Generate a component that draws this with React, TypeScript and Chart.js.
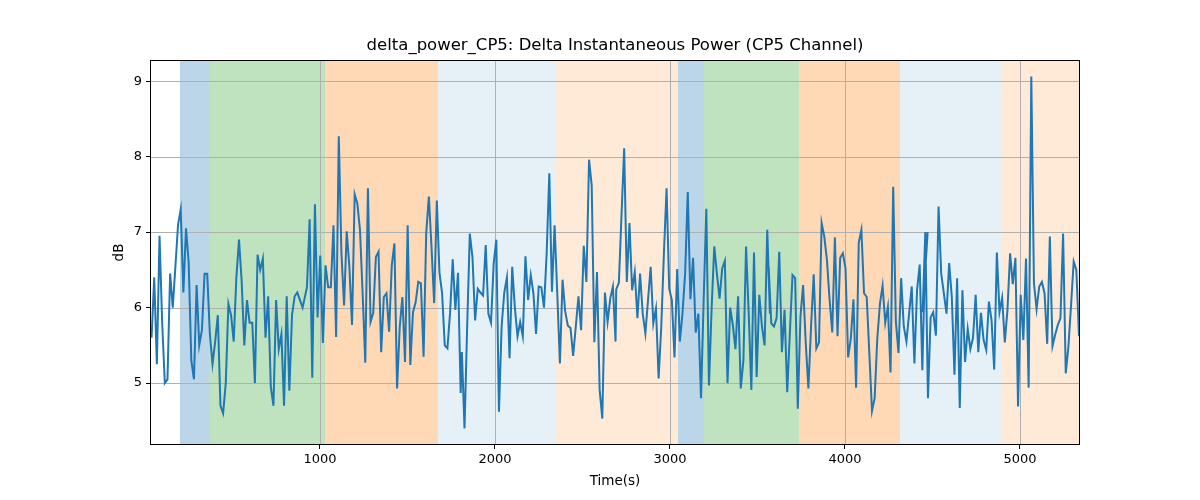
import React, { useEffect, useRef } from "react";
import { Chart, registerables } from "chart.js";
Chart.register(...registerables);

const TITLE = "delta_power_CP5: Delta Instantaneous Power (CP5 Channel)";
const X_LABEL = "Time(s)";
const Y_LABEL = "dB";
const T_START = 29;
const T_END = 5343;
const Y_MIN = 4.18;
const Y_MAX = 9.28;
const X_TICKS = [1000, 2000, 3000, 4000, 5000];
const Y_TICKS = [5, 6, 7, 8, 9];
const SAMPLE_STEP = 15.14;

const seg1 = [5.6,6.4,5.25,6.95,5.8,5.0,5.05,6.45,6.0,6.55,7.1,7.3,6.2,7.05,6.6,5.3,5.05,6.3,5.5,5.7,6.45,6.45,5.65,5.25,5.55,5.9,4.7,4.6,5.0,6.05,5.9,5.55,6.4,6.9,6.35,5.5,6.1,5.8,5.8,5.0,6.7,6.5,6.65,5.6,6.15,4.95,4.7,6.1,5.45,5.65,4.7,6.15,4.9,5.9,6.15,6.2,6.1,6.0];
const seg2 = [6.27,7.17,5.07,7.37,5.87,6.69,5.53,6.56,6.27,6.27,7.09,5.61,8.27,6.72,6.03,7.01,6.54,5.77,7.5,7.38,7.03,6.19,5.27,7.58,5.81,5.93,6.67,6.74,5.41,6.14,6.19,5.68,6.56,6.85,4.93,5.74,6.14,5.28,7.09,5.24,5.94,6.07,6.34,6.32,5.35,6.99,7.47,6.8,6.06,7.42,6.46,6.19,5.5,5.46,5.93,6.64,5.97,6.46,4.87];
const seg3 = [5.41,4.4,5.75,6.98,6.67,5.83,6.25,6.2,6.16,6.83,5.92,5.8,6.58,6.9,4.62,5.75,6.2,6.4,5.33,6.54,6.0,5.62,5.81,5.62,6.68,6.1,6.43,6.19,5.65,6.28,6.27,6.0,6.72,7.78,6.21,7.09,6.19,5.26,6.37,5.95,5.76,5.73,5.36,5.75,6.15,5.7,6.82,6.34,7.96,7.62,5.54,6.47,4.91,4.53,6.2,5.81,6.12,6.28,5.55];
const seg4 = [6.24,6.33,7.23,8.11,6.34,7.12,6.23,6.47,5.86,6.45,5.92,5.66,6.1,6.54,5.79,5.99,5.06,5.75,6.72,7.58,6.25,6.1,5.34,6.51,5.55,5.92,6.45,7.53,6.11,6.66,5.67,5.92,4.8,6.1,7.31,4.97,5.99,6.81,6.45,6.12,6.52,6.62,5.0,6.0,5.77,5.45,6.15,4.93,5.3,6.81,5.92,4.91,6.73,5.08,6.17,5.75,5.5,7.03,5.92];
const seg5 = [6.54,5.79,5.75,5.86,6.74,5.41,5.97,4.88,5.66,6.43,6.39,4.66,5.88,6.3,5.53,4.93,5.75,6.44,5.46,5.54,7.12,6.94,6.63,6.1,5.67,6.93,5.62,6.66,6.72,6.52,5.34,5.59,6.11,4.94,6.86,7.03,6.19,6.14,5.39,4.63,4.8,5.59,6.05,6.29,5.8,6.01,5.14,7.6,5.82,5.4,6.39,5.75,5.55,5.92,6.28,5.26,6.23,6.57,5.17,6.63,7.0];
const seg6 = [5.94,7.0,4.8,5.87,5.94,5.63,7.34,6.45,6.19,5.92,6.59,6.14,5.11,6.39,4.67,6.23,5.28,5.72,5.45,5.6,6.17,5.41,5.93,5.57,5.44,6.08,5.83,5.18,6.73,5.94,6.13,5.54,5.97,6.72,6.31,6.66,4.69,6.17,5.57,6.65,4.94,9.06,6.32,5.98,6.28,6.34,6.19,5.52,6.94,5.49,5.64,5.77,5.86,6.98,5.13,5.48,6.03,6.61,6.5,5.62,5.94];
const SEGMENTS = [seg1, seg2, seg3, seg4, seg5, seg6];
const SEGMENT_STARTS = [38, 926, 1811, 2693, 3564, 4444];

const SPAN_STARTS = [200, 371, 1029, 1674, 2349, 3046, 3194, 3737, 4314, 4897];
const SPAN_ENDS = [371, 1029, 1674, 2349, 3046, 3194, 3737, 4314, 4897, 5343];
const SPAN_COLORS = [
  "rgba(31,119,180,0.3)", "rgba(44,160,44,0.3)", "rgba(255,127,14,0.3)", "rgba(31,119,180,0.11)", "rgba(255,127,14,0.16)",
  "rgba(31,119,180,0.3)", "rgba(44,160,44,0.3)", "rgba(255,127,14,0.3)", "rgba(31,119,180,0.11)", "rgba(255,127,14,0.16)",
];

const FONT = "'DejaVu Sans', sans-serif";

export default function App() {
  const ref = useRef<HTMLCanvasElement>(null);
  useEffect(() => {
    document.body.style.margin = "0";
    const pts: { x: number; y: number }[] = [];
    SEGMENTS.forEach((seg, k) => {
      seg.forEach((v, i) => {
        const t = SEGMENT_STARTS[k] + i * SAMPLE_STEP;
        if (t <= T_END) pts.push({ x: t, y: v });
      });
    });
    const plugin = {
      id: "deco",
      beforeDatasetsDraw(chart: any) {
        const { ctx, chartArea: a, scales } = chart;
        const xs = scales.x;
        ctx.save();
        ctx.beginPath();
        ctx.rect(a.left, a.top, a.right - a.left, a.bottom - a.top);
        ctx.clip();
        SPAN_STARTS.forEach((s, i) => {
          const x0 = xs.getPixelForValue(s);
          const x1 = xs.getPixelForValue(SPAN_ENDS[i]);
          ctx.fillStyle = SPAN_COLORS[i];
          ctx.fillRect(x0, a.top, x1 - x0, a.bottom - a.top);
        });
        ctx.strokeStyle = "#b0b0b0";
        ctx.lineWidth = 1;
        X_TICKS.forEach((t) => {
          const x = Math.round(xs.getPixelForValue(t)) + 0.5;
          ctx.beginPath(); ctx.moveTo(x, a.top); ctx.lineTo(x, a.bottom); ctx.stroke();
        });
        Y_TICKS.forEach((t) => {
          const y = Math.round(scales.y.getPixelForValue(t)) + 0.5;
          ctx.beginPath(); ctx.moveTo(a.left, y); ctx.lineTo(a.right, y); ctx.stroke();
        });
        ctx.restore();
      },
      afterDraw(chart: any) {
        const { ctx, chartArea: a } = chart;
        ctx.save();
        ctx.strokeStyle = "#000";
        ctx.lineWidth = 1;
        ctx.strokeRect(a.left + 0.5, a.top + 0.5, a.right - a.left - 1, a.bottom - a.top - 1);
        ctx.fillStyle = "#000";
        ctx.textAlign = "center";
        ctx.textBaseline = "middle";
        ctx.font = `16.5px ${FONT}`;
        ctx.fillText(TITLE, (a.left + a.right) / 2, 46);
        ctx.font = `13.5px ${FONT}`;
        ctx.fillText(X_LABEL, (a.left + a.right) / 2, 481);
        ctx.translate(119, (a.top + a.bottom) / 2);
        ctx.rotate(-Math.PI / 2);
        ctx.fillText(Y_LABEL, 0, 0);
        ctx.restore();
      },
    };
    const chart = new Chart(ref.current!, {
      type: "line",
      data: { datasets: [{ data: pts, borderColor: "#1f77b4", borderWidth: 2, pointRadius: 0, tension: 0 }] },
      options: {
        animation: false,
        responsive: false,
        layout: { padding: { left: 0, right: 120, top: 60, bottom: 0 } },
        plugins: { legend: { display: false }, tooltip: { enabled: false } },
        scales: {
          x: {
            type: "linear", min: T_START, max: T_END,
            afterFit: (s: any) => { s.height = 55; },
            afterBuildTicks: (s: any) => { s.ticks = X_TICKS.map((v) => ({ value: v })); },
            grid: { drawOnChartArea: false, tickLength: 4, tickColor: "#000" },
            border: { display: false },
            ticks: { color: "#000", font: { family: FONT, size: 13 }, maxRotation: 0, padding: 3, callback: (v: any) => String(v) },
          },
          y: {
            type: "linear", min: Y_MIN, max: Y_MAX,
            afterFit: (s: any) => { s.width = 150; },
            afterBuildTicks: (s: any) => { s.ticks = Y_TICKS.map((v) => ({ value: v })); },
            grid: { drawOnChartArea: false, tickLength: 4, tickColor: "#000" },
            border: { display: false },
            ticks: { color: "#000", font: { family: FONT, size: 13 }, padding: 4, callback: (v: any) => String(v) },
          },
        },
      },
      plugins: [plugin],
    });
    return () => chart.destroy();
  }, []);
  return <canvas ref={ref} width={1200} height={500} style={{ display: "block" }} />;
}
